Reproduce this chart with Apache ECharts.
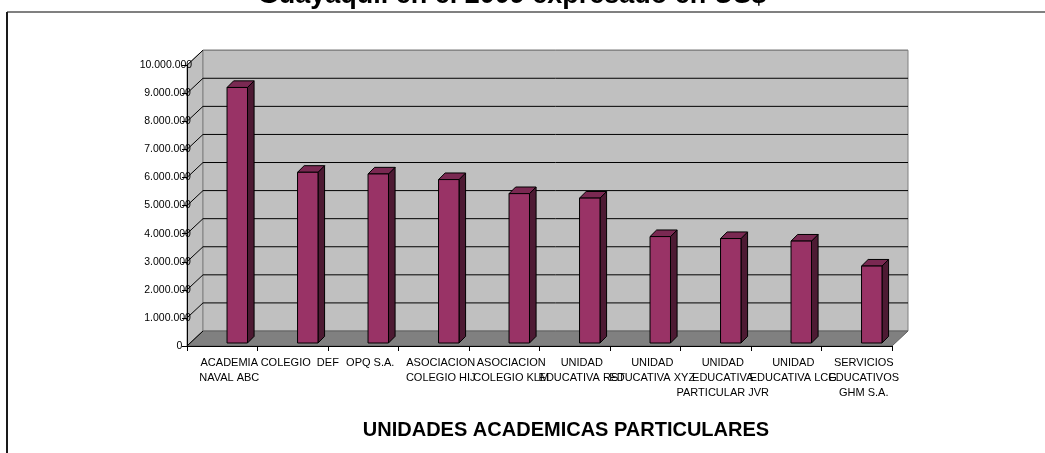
<!DOCTYPE html>
<html>
<head>
<meta charset="utf-8">
<script src="https://cdn.jsdelivr.net/npm/echarts@6/dist/echarts.min.js"></script>
<style>
html,body{margin:0;padding:0;background:#fff;}
#chart{width:1045px;height:453px;}
</style>
</head>
<body>
<div id="chart"></div>
<script>
// ---- data ----
const categories = [
  "ACADEMIA\nNAVAL ABC",
  "COLEGIO  DEF",
  "OPQ S.A.",
  "ASOCIACION\nCOLEGIO HIJ",
  "ASOCIACION\nCOLEGIO KLM",
  "UNIDAD\nEDUCATIVA RST",
  "UNIDAD\nEDUCATIVA XYZ",
  "UNIDAD\nEDUCATIVA\nPARTICULAR JVR",
  "UNIDAD\nEDUCATIVA LCG",
  "SERVICIOS\nEDUCATIVOS\nGHM S.A."
];
const values = [9100000, 6080000, 6020000, 5820000, 5320000, 5160000, 3790000, 3720000, 3630000, 2740000];
const yMin = 0, yMax = 10000000, yStep = 1000000;
const yTicks = [0, 1000000, 2000000, 3000000, 4000000, 5000000, 6000000, 7000000, 8000000, 9000000, 10000000];
const topTitle = "Guayaquil en el 2009 expresado en US$";
const axisTitle = "UNIDADES ACADEMICAS PARTICULARES";

const FONT = "'Liberation Sans', Arial, sans-serif";
const DX = 16, DY = 15;          // depth offset of back wall
const BAR_SHIFT = 3;             // bar plane depth
const BAR_D = 6.6;               // bar depth
const YLAB_FONT = '10.5px ' + FONT;

function fmt(v){ return String(v).replace(/\B(?=(\d{3})+(?!\d))/g, '.'); }

const measureCtx = document.createElement('canvas').getContext('2d');
measureCtx.font = YLAB_FONT;
function textW(t){ return measureCtx.measureText(t).width; }

const chart = echarts.init(document.getElementById('chart'), null, {renderer:'canvas'});

function renderWalls(params, api){
  const cs = params.coordSys;
  const x0 = cs.x, x1 = cs.x + cs.width;
  const yb = cs.y + cs.height, yt = cs.y;
  const children = [];
  children.push({type:'polygon', shape:{points:[[x0,yb],[x0+DX,yb-DY],[x0+DX,yt-DY],[x0,yt]]},
    style:{fill:'#c0c0c0', stroke:'#808080', lineWidth:1}});
  children.push({type:'rect', shape:{x:x0+DX, y:yt-DY, width:x1-x0, height:yb-yt},
    style:{fill:'#c0c0c0', stroke:'#808080', lineWidth:1}});
  children.push({type:'polygon', shape:{points:[[x0,yb],[x1,yb],[x1+DX,yb-DY],[x0+DX,yb-DY]]},
    style:{fill:'#808080', stroke:'#606060', lineWidth:1}});
  for(let v=yMin; v<=yMax; v+=yStep){
    const y = api.coord([0, v])[1];
    const col = (v===yMax) ? '#808080' : '#000';
    if (v !== yMin) {
      children.push({type:'line', shape:{x1:x0+DX, y1:y-DY, x2:x1+DX, y2:y-DY},
        style:{stroke:col, lineWidth:1}});
    }
    children.push({type:'line', shape:{x1:x0, y1:y, x2:x0+DX, y2:y-DY},
      style:{stroke:'#000', lineWidth:1}});
  }
  return {type:'group', children};
}

function renderYLabel(params, api){
  const v = api.value(1);
  const p = api.coord([0, v]);
  const cs = params.coordSys;
  const t = fmt(v);
  const w = textW(t);
  const left = cs.x - 6 - 0.787 * w;
  return {type:'text', x:left, y:p[1],
    style:{text:t, align:'left', verticalAlign:'middle', font:YLAB_FONT, fill:'#000'}, z2:20};
}

function renderBar(params, api){
  const i = api.value(0), v = api.value(1);
  const p0 = api.coord([i, 0]);
  const p1 = api.coord([i, v]);
  const band = api.size([1, 0])[0];
  const cx = p0[0] + band * 0.213;
  const w = band * 0.29;
  const y0 = p0[1] - BAR_SHIFT, y1 = p1[1] - BAR_SHIFT;
  const l = cx - w/2, r = cx + w/2, d = BAR_D;
  return {type:'group', children:[
    {type:'polygon', shape:{points:[[r,y0],[r+d,y0-d],[r+d,y1-d],[r,y1]]},
      style:{fill:'#4d1a33', stroke:'#000', lineWidth:1}},
    {type:'polygon', shape:{points:[[l,y1],[r,y1],[r+d,y1-d],[l+d,y1-d]]},
      style:{fill:'#7a2952', stroke:'#000', lineWidth:1}},
    {type:'rect', shape:{x:l, y:y1, width:w, height:y0-y1},
      style:{fill:'#993366', stroke:'#000', lineWidth:1}}
  ]};
}

const option = {
  animation:false,
  backgroundColor:'#ffffff',
  grid:{left:187, right:153, top:65.2, bottom:107, containLabel:false},
  xAxis:{
    type:'category', data:categories, boundaryGap:true,
    axisLine:{show:true, lineStyle:{color:'#000', width:1}},
    axisTick:{show:true, length:5, lineStyle:{color:'#000'}},
    axisLabel:{interval:0, hideOverlap:false, color:'#000', fontFamily:FONT, fontSize:11,
      lineHeight:15, margin:9, padding:[0,0,0,14]},
    splitLine:{show:false}, z:5
  },
  yAxis:{
    type:'value', min:yMin, max:yMax, interval:yStep,
    axisLine:{show:true, lineStyle:{color:'#000', width:1}},
    axisTick:{show:true, length:5, lineStyle:{color:'#000'}},
    axisLabel:{show:false},
    splitLine:{show:false}, z:5
  },
  series:[
    {type:'custom', z:-1, renderItem:renderWalls, data:[[0,0]], silent:true, clip:false},
    {type:'custom', z:3, renderItem:renderBar, clip:false,
      data: values.map((v,i)=>[i,v])},
    {type:'custom', z:6, renderItem:renderYLabel, clip:false, silent:true,
      data: yTicks.map(v=>[0,v])}
  ],
  graphic:[
    {type:'line', shape:{x1:7, y1:12, x2:1045, y2:12}, style:{stroke:'#808080', lineWidth:2}, z:10},
    {type:'line', shape:{x1:7, y1:12, x2:7, y2:453}, style:{stroke:'#1a1a1a', lineWidth:2}, z:10},
    {type:'text', x:512, y:9.5, style:{text:topTitle, align:'center', verticalAlign:'bottom',
      font:'bold 27px ' + FONT, fill:'#000'}, z:10},
    {type:'text', x:566, y:430, style:{text:axisTitle, align:'center', verticalAlign:'middle',
      font:'bold 20px ' + FONT, fill:'#000'}, z:10}
  ]
};
chart.setOption(option);
</script>
</body>
</html>
